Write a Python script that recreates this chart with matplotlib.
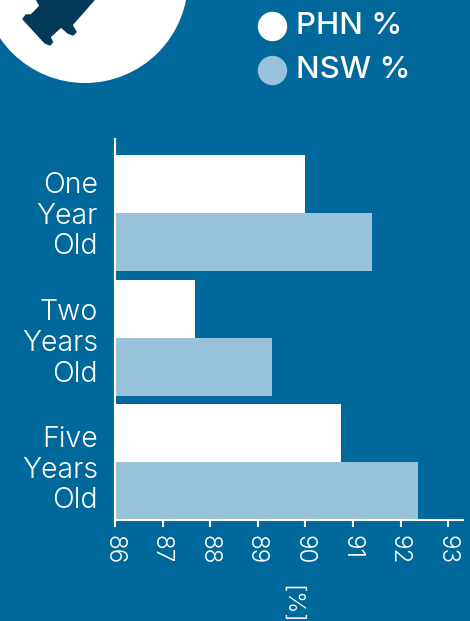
import matplotlib
matplotlib.use("Agg")
import matplotlib.pyplot as plt
import matplotlib.transforms as mtrans
import numpy as np
from matplotlib.patches import Circle, Polygon

ages = ["One\nYear\nOld", "Two\nYears\nOld", "Five\nYears\nOld"]
phn = [90.0, 87.68, 90.75]
nsw = [91.4, 89.3, 92.37]
ticks = [86, 87, 88, 89, 90, 91, 92, 93]

BG = "#00689A"
LIGHT = "#98C1DA"
DARK = "#023A57"
W, H = 470, 621
FONT = "Inter"

fig = plt.figure(figsize=(W/100, H/100), dpi=100, facecolor=BG)

# decoration layer in pixel coordinates
bg = fig.add_axes([0, 0, 1, 1])
bg.set_xlim(0, W); bg.set_ylim(H, 0); bg.axis("off")
bg.add_patch(Circle((85, -20), 103, fc="white", ec="none"))
body = [(36.7, 0), (40, 6), (31, 15), (26, 15), (23, 19), (45, 43), (50, 45), (52.5, 42), (50, 37),
        (61, 27), (68, 33), (73, 35), (76, 32), (72, 25), (94, 0)]
bg.add_patch(Polygon(body, closed=True, fc=DARK, ec=DARK, lw=1, joinstyle="round"))
D = (29.4 * 0.72) ** 2
bg.scatter([272], [25.5], s=D, c="white", linewidths=0)
bg.scatter([272], [69.5], s=D, c=LIGHT, linewidths=0)
bg.text(296, 26, "PHN %", color="white", fontsize=22.5, family=FONT, va="center", ha="left", weight=500)
bg.text(296, 70, "NSW %", color="white", fontsize=22.5, family=FONT, va="center", ha="left", weight=500)

# chart
l, r, t, b = 115, 463, 139, 520
ax = fig.add_axes([l/W, 1-b/H, (r-l)/W, (b-t)/H], facecolor="none")
xmin = 86
xmax = 86 + (r-l)/47.6
ax.set_xlim(xmin, xmax)
y = np.arange(len(ages))
h = 0.4645
ybottom = 2 + h
ax.set_ylim(ybottom, ybottom - (b-t)/124.5)
ax.barh(y - h/2, np.array(phn) - xmin, left=xmin, height=h, color="white", linewidth=0)
ax.barh(y + h/2, np.array(nsw) - xmin, left=xmin, height=h, color=LIGHT, linewidth=0)
ax.set_xticks(ticks)
ax.set_xticklabels([str(v) for v in ticks], rotation=-90, color="white", fontsize=17.5, family=FONT, weight=300)
ax.set_yticks(y)
ax.set_yticklabels(ages, color="white", fontsize=20.5, family=FONT, weight=300, linespacing=1.18, ha="right")
ax.tick_params(axis="x", length=5, width=1.5, color="white", pad=6)
ax.tick_params(axis="y", length=0, pad=12.2)
for lab, dy in zip(ax.get_yticklabels(), [-2, 1, 3]):
    lab.set_transform(lab.get_transform() + mtrans.ScaledTranslation(0, -dy/100, fig.dpi_scale_trans))
for lab in ax.get_xticklabels():
    lab.set_transform(lab.get_transform() + mtrans.ScaledTranslation(-1.5/100, 0, fig.dpi_scale_trans))
for s in ("top", "right"):
    ax.spines[s].set_visible(False)
for s in ("left", "bottom"):
    ax.spines[s].set_color("white"); ax.spines[s].set_linewidth(1.5)
bg.text(292, 604, "[%]", color="white", fontsize=17, family=FONT, weight=300, rotation=-90, ha="center", va="center")

fig.savefig("out.png", dpi=100, facecolor=BG)
